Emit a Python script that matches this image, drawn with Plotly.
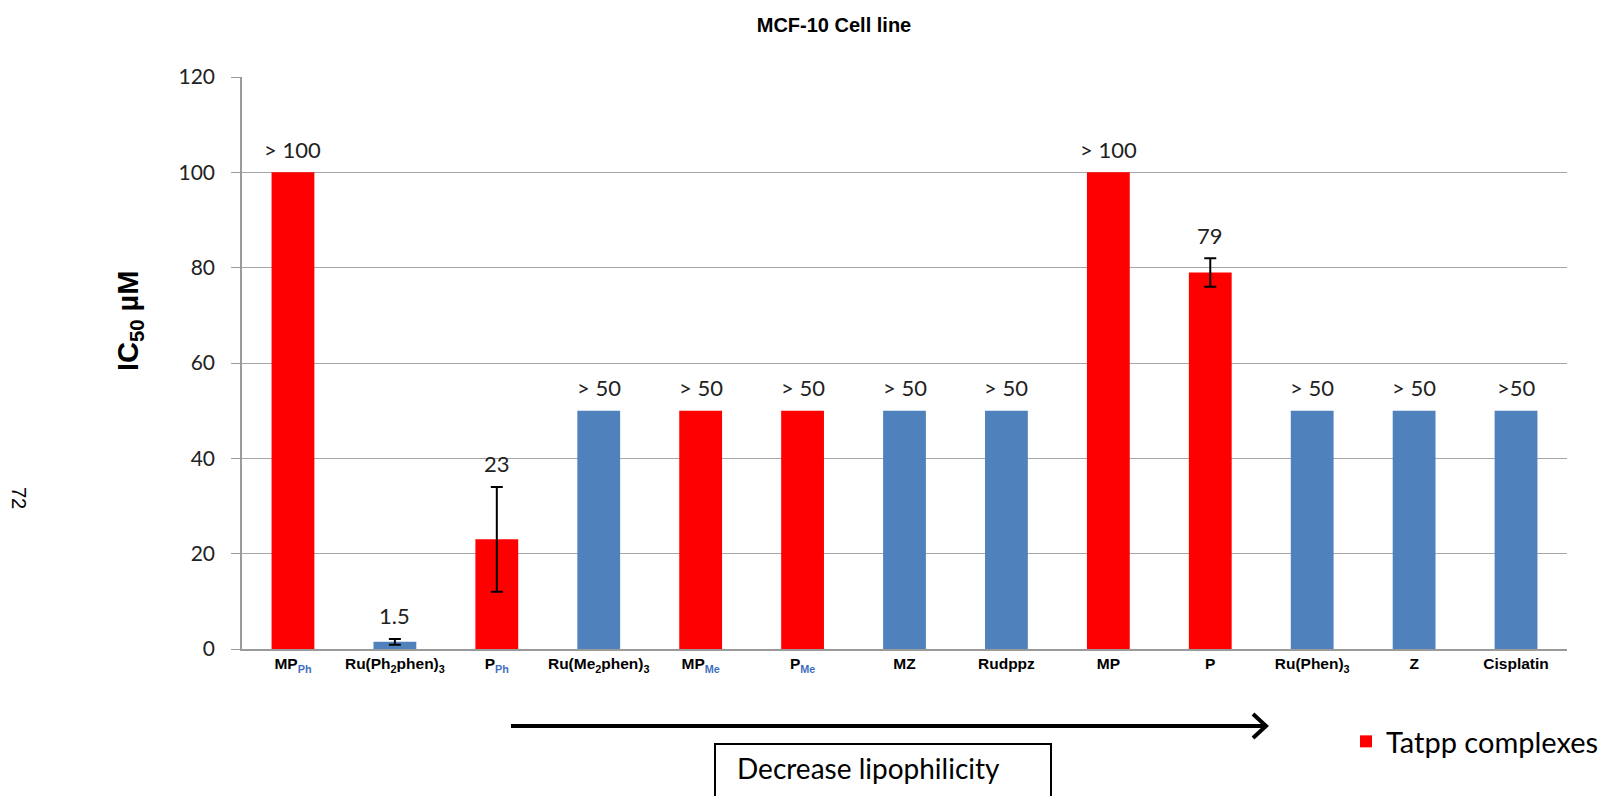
import plotly.graph_objects as go

# IC50 values on the MCF-10 cell line
SUB_BLUE = "#3F6FC0"
compounds = ["MPPh", "Ru(Ph2phen)3", "PPh", "Ru(Me2phen)3", "MPMe", "PMe", "MZ",
             "Rudppz", "MP", "P", "Ru(Phen)3", "Z", "Cisplatin"]
tick_labels = [
    f"MP<sub><span style='color:{SUB_BLUE}'>Ph</span></sub>",
    "Ru(Ph<sub>2</sub>phen)<sub>3</sub>",
    f"P<sub><span style='color:{SUB_BLUE}'>Ph</span></sub>",
    "Ru(Me<sub>2</sub>phen)<sub>3</sub>",
    f"MP<sub><span style='color:{SUB_BLUE}'>Me</span></sub>",
    f"P<sub><span style='color:{SUB_BLUE}'>Me</span></sub>",
    "MZ", "Rudppz", "MP", "P",
    "Ru(Phen)<sub>3</sub>", "Z", "Cisplatin",
]
ic50 = [100, 1.5, 23, 50, 50, 50, 50, 50, 100, 79, 50, 50, 50]
err = [None, 0.6, 11, None, None, None, None, None, None, 3, None, None, None]
value_labels = ["> 100", "1.5", "23", "> 50", "> 50", "> 50", "> 50", "> 50",
                "> 100", "79", "> 50", "> 50", ">50"]
is_tatpp = [True, False, True, False, True, True, False, False, True, True,
            False, False, False]

RED = "#FF0000"
BLUE = "#4F81BD"
W, H = 1613, 796
ML, MR, MT, MB = 242, 46, 77, 147
PW, PH = W - ML - MR, H - MT - MB


def px_x(x):
    return (x - ML) / PW


def px_y(y):
    return (H - MB - y) / PH


fig = go.Figure()
for flag, color, name, show in [(True, RED, "Tatpp complexes", True),
                                (False, BLUE, "Other complexes", False)]:
    vals = [v if t == flag else None for v, t in zip(ic50, is_tatpp)]
    fig.add_trace(go.Bar(
        x=compounds, y=vals, name=name, showlegend=show,
        marker=dict(color=color, line=dict(width=0)),
    ))

# error bars only where a deviation was measured
ex = [c for c, e in zip(compounds, err) if e is not None]
ey = [v for v, e in zip(ic50, err) if e is not None]
ee = [e for e in err if e is not None]
fig.add_trace(go.Scatter(
    x=ex, y=ey, mode="markers", showlegend=False, hoverinfo="skip",
    marker=dict(size=1, opacity=0),
    error_y=dict(type="data", array=ee, visible=True,
                 color="black", thickness=2, width=6),
))

annotations = []
for c, v, e, lab in zip(compounds, ic50, err, value_labels):
    annotations.append(dict(
        x=c, y=v + (e or 0), xref="x", yref="y", text=lab, showarrow=False,
        yanchor="middle", yshift=23,
        font=dict(family="Lato", size=22, color="#222222"),
    ))

# y-axis title
annotations.append(dict(
    x=px_x(130), y=px_y(321), xref="paper", yref="paper",
    text="<b>IC<sub>50</sub> µM</b>", textangle=-90, showarrow=False,
    xanchor="center", yanchor="middle",
    font=dict(family="Liberation Sans", size=29, color="black"),
))
# page number
annotations.append(dict(
    x=px_x(19), y=px_y(498), xref="paper", yref="paper",
    text="72", textangle=90, showarrow=False,
    xanchor="center", yanchor="middle",
    font=dict(family="Liberation Sans", size=20, color="black"),
))
# box caption
annotations.append(dict(
    x=px_x(735), y=px_y(768), xref="paper", yref="paper",
    text="Decrease lipophilicity", showarrow=False,
    xanchor="left", yanchor="middle",
    font=dict(family="Lato", size=28, color="black"),
))

shapes = [
    # lipophilicity arrow
    dict(type="line", xref="paper", yref="paper",
         x0=px_x(511), x1=px_x(1264), y0=px_y(726), y1=px_y(726),
         line=dict(color="black", width=4)),
    dict(type="path", xref="paper", yref="paper",
         path=(f"M {px_x(1253)},{px_y(714)} L {px_x(1266)},{px_y(726)} "
               f"L {px_x(1253)},{px_y(738)}"),
         line=dict(color="black", width=4)),
    # caption box
    dict(type="rect", xref="paper", yref="paper",
         x0=px_x(715), x1=px_x(1051), y0=px_y(744), y1=px_y(820),
         line=dict(color="black", width=2)),
]

fig.update_layout(
    width=W, height=H,
    margin=dict(l=ML, r=MR, t=MT, b=MB, autoexpand=False),
    paper_bgcolor="white", plot_bgcolor="white",
    barmode="overlay", bargap=0.58,
    title=dict(text="<b>MCF-10 Cell line</b>", x=834 / W, xanchor="center",
               y=1 - 25 / H, yanchor="middle", xref="container",
               yref="container",
               font=dict(family="Liberation Sans", size=20, color="black")),
    xaxis=dict(
        tickmode="array", tickvals=compounds, ticktext=tick_labels,
        tickfont=dict(family="Liberation Sans", size=15.5, color="black",
                      weight="bold"),
        showline=True, linecolor="#9A9A9A", linewidth=1.5,
        ticks="", showgrid=False,
    ),
    yaxis=dict(
        range=[0, 120], tickvals=[0, 20, 40, 60, 80, 100, 120],
        showgrid=True, gridcolor="#A6A6A6", gridwidth=1,
        showline=True, linecolor="#9A9A9A", linewidth=1.5,
        ticks="outside", ticklen=9, tickcolor="#9A9A9A", tickwidth=1,
        ticklabelstandoff=12,
        tickfont=dict(family="Lato", size=21, color="#222222"),
        zeroline=False,
    ),
    legend=dict(
        x=1346 / W, y=1 - 716 / H, xref="container", yref="container",
        xanchor="left", yanchor="top", itemwidth=30,
        font=dict(family="Lato", size=29, color="black"),
        bgcolor="rgba(0,0,0,0)",
    ),
    annotations=annotations,
    shapes=shapes,
)

fig.write_html("out.html")
